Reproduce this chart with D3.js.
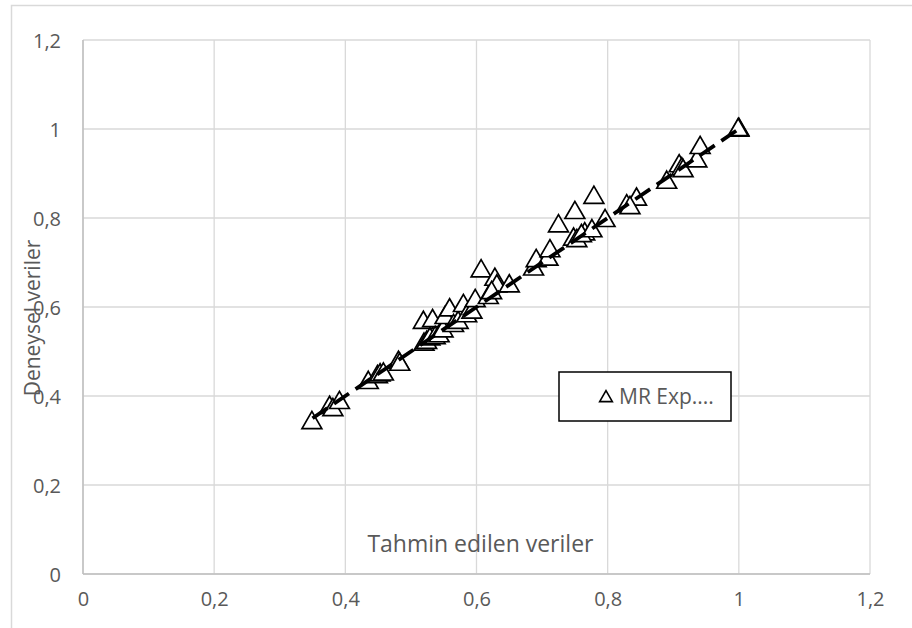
<!DOCTYPE html>
<html>
<head>
<meta charset="utf-8">
<script src="https://cdn.jsdelivr.net/npm/d3@7"></script>
<style>
  body { margin: 0; background: #fff; }
  text { font-family: "Open Sans", "Liberation Sans", sans-serif; }
</style>
</head>
<body>
<div id="chart"></div>
<script>
var predicted = [0.349, 0.376, 0.381, 0.391, 0.435, 0.449, 0.453, 0.458, 0.481, 0.483,
    0.519, 0.520, 0.524, 0.533, 0.529, 0.537, 0.543, 0.549, 0.552, 0.559,
    0.565, 0.572, 0.580, 0.585, 0.593, 0.598, 0.607, 0.618, 0.628, 0.631,
    0.623, 0.650, 0.687, 0.691, 0.709, 0.712, 0.725, 0.748, 0.753, 0.750,
    0.765, 0.760, 0.776, 0.779, 0.796, 0.829, 0.844, 0.834, 0.890, 0.909,
    0.913, 0.915, 0.936, 0.941, 1.000, 1.000, 0.999];
var experimental = [0.342, 0.376, 0.371, 0.387, 0.432, 0.445, 0.449, 0.451, 0.477, 0.473,
    0.567, 0.518, 0.522, 0.571, 0.530, 0.533, 0.537, 0.548, 0.578, 0.595,
    0.560, 0.567, 0.605, 0.582, 0.590, 0.616, 0.683, 0.623, 0.664, 0.649,
    0.634, 0.649, 0.687, 0.706, 0.709, 0.728, 0.784, 0.754, 0.751, 0.814,
    0.766, 0.762, 0.773, 0.848, 0.796, 0.829, 0.844, 0.825, 0.882, 0.919,
    0.912, 0.908, 0.930, 0.960, 0.999, 1.001, 1.000];
// dashed trend line end points
var trendX = [0.35, 1.0];
var trendY = [0.35, 1.0];
var xTicks = [0, 0.2, 0.4, 0.6, 0.8, 1, 1.2];
var yTicks = [0, 0.2, 0.4, 0.6, 0.8, 1, 1.2];
var seriesName = "MR Exp....";

var W = 912, H = 628;
var margin = {top: 40, right: 42, bottom: 54, left: 83};
var width = W - margin.left - margin.right,
    height = H - margin.top - margin.bottom;

var fmt = function(d) { return String(d).replace(".", ","); };

var svg = d3.select("#chart").append("svg")
    .attr("width", W).attr("height", H);

// outer chart frame (cropped at right and bottom)
svg.append("rect").attr("x", 11.5).attr("y", 5.5)
    .attr("width", W + 10).attr("height", H + 10)
    .style("fill", "none").style("stroke", "#d9d9d9").style("stroke-width", 1.5);

var xScale = d3.scaleLinear().domain([0, 1.2]).range([0, width]);
var yScale = d3.scaleLinear().domain([0, 1.2]).range([height, 0]);

var g = svg.append("g").attr("transform", "translate(" + margin.left + "," + margin.top + ")");

// grid
g.append("g").selectAll("line").data(xTicks).enter().append("line")
    .attr("x1", function(d) { return xScale(d); }).attr("x2", function(d) { return xScale(d); })
    .attr("y1", 0).attr("y2", height)
    .style("stroke", "#d9d9d9").style("stroke-width", 1.3);
g.append("g").selectAll("line").data(yTicks).enter().append("line")
    .attr("y1", function(d) { return yScale(d); }).attr("y2", function(d) { return yScale(d); })
    .attr("x1", 0).attr("x2", width)
    .style("stroke", "#d9d9d9").style("stroke-width", 1.3);

// axes (labels only, lines come from the grid)
var xAxis = d3.axisBottom(xScale).tickValues(xTicks).tickFormat(fmt).tickSize(0).tickPadding(23);
var yAxis = d3.axisLeft(yScale).tickValues(yTicks).tickFormat(fmt).tickSize(0).tickPadding(22);
var gx = g.append("g").attr("transform", "translate(0," + height + ")").call(xAxis);
var gy = g.append("g").call(yAxis);
[gx, gy].forEach(function(a) {
    a.select(".domain").remove();
    a.selectAll("text").style("font-size", "20px").style("fill", "#595959")
        .style("font-family", "'Open Sans', sans-serif");
});
gy.selectAll("text").attr("dy", "0.35em");
gx.selectAll("text").attr("dy", "0.45em");
g.append("line").attr("x1", 0).attr("x2", width).attr("y1", height).attr("y2", height)
    .style("stroke", "#bfbfbf").style("stroke-width", 1.5);
g.append("line").attr("x1", 0).attr("x2", 0).attr("y1", 0).attr("y2", height)
    .style("stroke", "#bfbfbf").style("stroke-width", 1.5);

// axis titles
g.append("text").attr("x", xScale(0.606)).attr("y", height - 22)
    .attr("text-anchor", "middle").style("font-size", "23px").style("fill", "#595959")
    .text("Tahmin edilen veriler");
svg.append("text").attr("transform", "translate(40,318) rotate(-90)")
    .attr("text-anchor", "middle").style("font-size", "21px").style("fill", "#595959")
    .text("Deneysel veriler");

// markers
var tri = d3.symbol().type(d3.symbolTriangle).size(170);
var pts = predicted.map(function(d, i) { return {x: d, y: experimental[i]}; });
g.append("g").selectAll("path").data(pts).enter().append("path")
    .attr("d", tri)
    .attr("transform", function(d) { return "translate(" + xScale(d.x) + "," + (yScale(d.y) + 1) + ")"; })
    .style("fill", "#fff").style("stroke", "#000").style("stroke-width", 1.7);

// dashed trend line
var line = d3.line()
    .x(function(d) { return xScale(d[0]); })
    .y(function(d) { return yScale(d[1]); });
g.append("path").datum(trendX.map(function(d, i) { return [d, trendY[i]]; }))
    .attr("d", line)
    .style("fill", "none").style("stroke", "#000").style("stroke-width", 3.8)
    .style("stroke-dasharray", "18,8");

// legend
var lg = svg.append("g").attr("transform", "translate(559,372)");
lg.append("rect").attr("width", 172).attr("height", 49)
    .style("fill", "#fff").style("stroke", "#000").style("stroke-width", 1.5);
lg.append("path").attr("d", d3.symbol().type(d3.symbolTriangle).size(70))
    .attr("transform", "translate(47,26)")
    .style("fill", "#fff").style("stroke", "#000").style("stroke-width", 1.6);
lg.append("text").attr("x", 60).attr("y", 32)
    .style("font-size", "21px").style("fill", "#595959").text(seriesName);
</script>
</body>
</html>
